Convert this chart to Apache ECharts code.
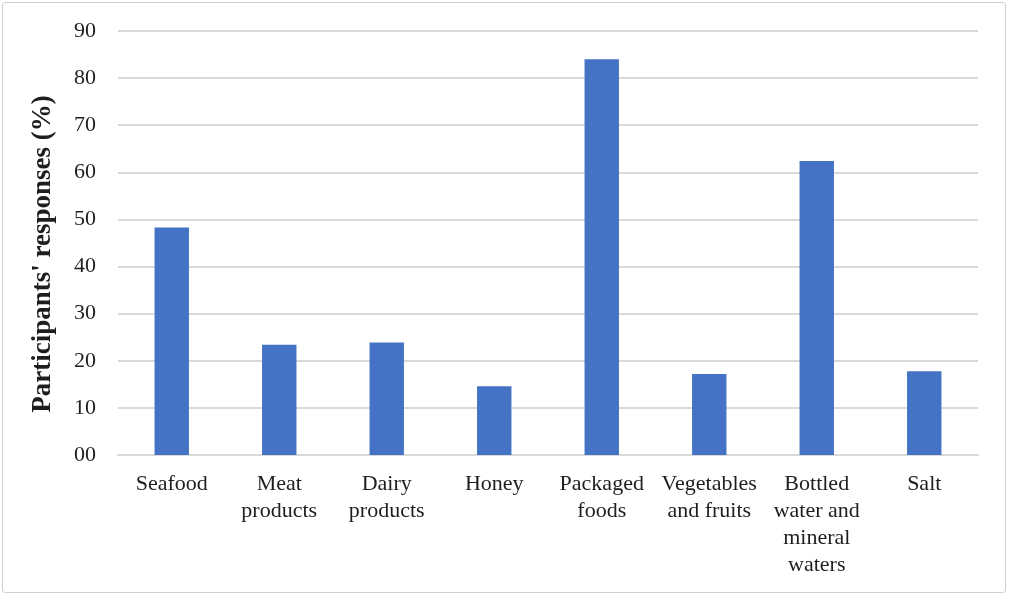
<!DOCTYPE html>
<html><head><meta charset="utf-8">
<script src="https://cdn.jsdelivr.net/npm/echarts@6/dist/echarts.min.js"></script>
<style>
html,body{margin:0;padding:0;background:#fff;}
#wrap{position:absolute;left:2px;top:2px;width:1004px;height:591px;border:1.5px solid #d0d0d0;border-radius:3px;box-sizing:border-box;}
#c{position:absolute;left:0;top:0;width:1010px;height:597px;}
</style></head>
<body>
<div id="wrap"></div>
<div id="c"></div>
<script>
const categories = ['Seafood', 'Meat\nproducts', 'Dairy\nproducts', 'Honey', 'Packaged\nfoods', 'Vegetables\nand fruits', 'Bottled\nwater and\nmineral\nwaters', 'Salt'];
const values = [48.3, 23.4, 23.9, 14.6, 84.0, 17.2, 62.4, 17.8];
const yTicks = { min: 0, max: 90, interval: 10 };
const yName = "Participants' responses (%)";

const chart = echarts.init(document.getElementById('c'), null, { renderer: 'canvas' });
chart.setOption({
  animation: false,
  grid: { left: 118, right: 32, top: 31, bottom: 142 },
  xAxis: {
    type: 'category',
    data: categories,
    axisLine: { show: true, lineStyle: { color: '#d9d9d9', width: 2 } },
    axisTick: { show: false },
    axisLabel: {
      interval: 0, margin: 16,
      fontFamily: 'Liberation Serif', fontSize: 22, color: '#1e1e1e', lineHeight: 27
    }
  },
  yAxis: {
    type: 'value',
    min: yTicks.min, max: yTicks.max, interval: yTicks.interval,
    name: yName,
    nameLocation: 'middle',
    nameGap: 61,
    nameTextStyle: { fontFamily: 'Liberation Serif', fontSize: 27, fontWeight: 'bold', color: '#1e1e1e', padding: [0, 22, 0, 0] },
    axisLine: { show: false },
    axisTick: { show: false },
    splitLine: { lineStyle: { color: '#d9d9d9', width: 2 } },
    axisLabel: {
      margin: 22,
      fontFamily: 'Liberation Serif', fontSize: 22, color: '#1e1e1e',
      formatter: v => String(v).padStart(2, '0')
    }
  },
  series: [{
    type: 'bar',
    data: values,
    barWidth: '32%',
    itemStyle: { color: '#4472C4' }
  }]
});
</script>
</body></html>
